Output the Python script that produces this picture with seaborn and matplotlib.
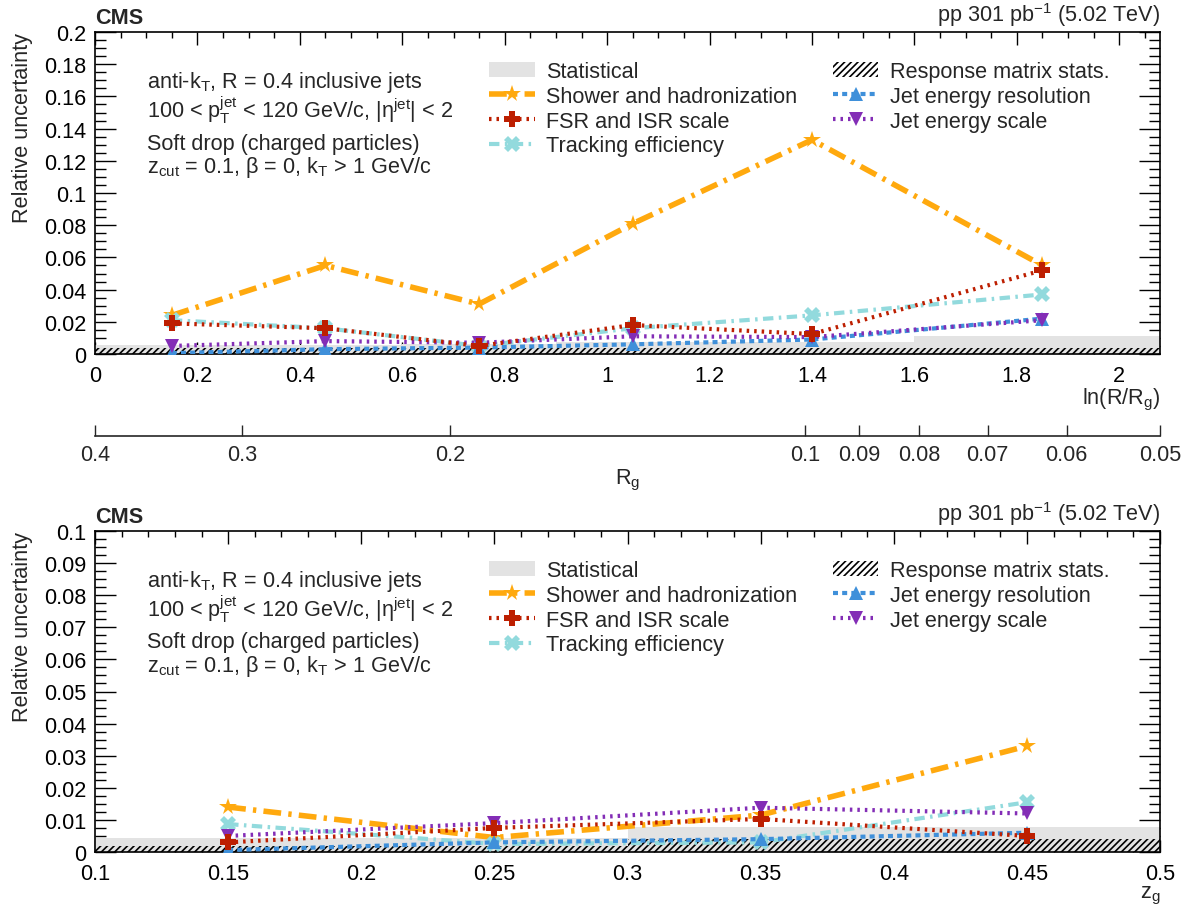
import numpy as np
import pandas as pd
import matplotlib
matplotlib.use("Agg")
import matplotlib.pyplot as plt
import seaborn as sns
from matplotlib.lines import Line2D
from matplotlib.patches import Patch
from matplotlib.ticker import MultipleLocator, FixedLocator, FuncFormatter

# ---------------- data ----------------
# top panel: ln(R/Rg)
lnr_edges = [0.0, 0.3, 0.6, 0.9, 1.2, 1.6, float(np.log(8.0))]
lnr_centers = [0.15, 0.45, 0.75, 1.05, 1.4, 1.85]
stat_top = [0.0055, 0.0055, 0.0065, 0.0075, 0.0075, 0.011]
resp_top = [0.004, 0.004, 0.004, 0.004, 0.004, 0.004]
shower_top = [0.024, 0.055, 0.031, 0.081, 0.133, 0.055]
fsr_top = [0.019, 0.016, 0.005, 0.018, 0.0124, 0.052]
track_top = [0.021, 0.016, 0.005, 0.016, 0.024, 0.037]
jer_top = [0.0005, 0.003, 0.004, 0.006, 0.009, 0.022]
jes_top = [0.005, 0.008, 0.007, 0.011, 0.0105, 0.021]

# bottom panel: z_g
zg_edges = [0.1, 0.2, 0.3, 0.4, 0.5]
zg_centers = [0.15, 0.25, 0.35, 0.45]
stat_bot = [0.0045, 0.0045, 0.0078, 0.0078]
resp_bot = [0.002, 0.002, 0.004, 0.004]
shower_bot = [0.014, 0.0045, 0.0115, 0.033]
fsr_bot = [0.003, 0.0075, 0.0103, 0.005]
track_bot = [0.0087, 0.0025, 0.003, 0.0155]
jer_bot = [0.0006, 0.003, 0.004, 0.006]
jes_bot = [0.005, 0.009, 0.0138, 0.012]

rg_ticks = [0.4, 0.3, 0.2, 0.1, 0.09, 0.08, 0.07, 0.06, 0.05]

labels = ["Statistical", "Shower and hadronization", "FSR and ISR scale",
          "Tracking efficiency", "Response matrix stats.",
          "Jet energy resolution", "Jet energy scale"]

# ---------------- style ----------------
sns.set_style("ticks")
plt.rcParams["font.family"] = ["Liberation Sans", "DejaVu Sans"]
plt.rcParams["mathtext.default"] = "regular"
plt.rcParams["hatch.linewidth"] = 1.2
FS = 15.6

ORANGE = "#ffa90e"
RED = "#bd1f01"
CYAN = "#92dadd"
BLUE = "#3f90da"
PURPLE = "#832db6"
GRAY = "#e3e3e3"

series_style = {
    "shower": dict(color=ORANGE, marker="*", markersize=13, linewidth=4.0,
                   linestyle=(0, (3.2, 1.3, 0.6, 1.3))),
    "fsr": dict(color=RED, marker="P", markersize=11, linewidth=3.0,
                linestyle=(0, (0.6, 1.2))),
    "track": dict(color=CYAN, marker="X", markersize=11, linewidth=3.0,
                  linestyle=(0, (2.5, 1.3, 0.6, 1.3))),
    "jer": dict(color=BLUE, marker="^", markersize=10, linewidth=3.0,
                linestyle=(0, (1.2, 1.0))),
    "jes": dict(color=PURPLE, marker="v", markersize=10, linewidth=3.0,
                linestyle=(0, (0.6, 1.2))),
}

fig = plt.figure(figsize=(11.82, 9.12), dpi=100)
W, H = 1182.0, 912.0
ax_top = fig.add_axes([95 / W, (H - 355) / H, 1065 / W, 322 / H])
ax_bot = fig.add_axes([95 / W, (H - 853) / H, 1065 / W, 321 / H])


def style_axis(ax, xmaj, xmin, ymaj, ymin):
    ax.xaxis.set_major_locator(MultipleLocator(xmaj))
    ax.xaxis.set_minor_locator(MultipleLocator(xmin))
    ax.yaxis.set_major_locator(MultipleLocator(ymaj))
    ax.yaxis.set_minor_locator(MultipleLocator(ymin))
    fmt = FuncFormatter(lambda v, p: "%g" % round(v, 6))
    ax.xaxis.set_major_formatter(fmt)
    ax.yaxis.set_major_formatter(fmt)
    ax.tick_params(axis="both", which="both", direction="in", top=True,
                   right=True, labelsize=FS, colors="black", width=1.0)
    ax.tick_params(axis="x", which="major", length=9, pad=8)
    ax.tick_params(axis="x", which="minor", length=4.5)
    ax.tick_params(axis="y", which="major", length=15, pad=6)
    ax.tick_params(axis="y", which="minor", length=8)
    for s in ax.spines.values():
        s.set_linewidth(1.2)
        s.set_color("black")
        s.set_visible(True)


def draw_panel(ax, edges, centers, stat, resp, vals):
    ax.stairs(stat, edges, fill=True, color=GRAY, linewidth=0, zorder=1)
    ax.stairs(resp, edges, fill=True, facecolor="none", edgecolor="black",
              hatch="/////", linewidth=0, zorder=1.5)
    order = ["shower", "track", "jer", "jes", "fsr"]
    for key in order:
        st = series_style[key]
        df = pd.DataFrame({"x": centers, "y": vals[key]})
        sns.lineplot(data=df, x="x", y="y", ax=ax, errorbar=None,
                     color=st["color"], marker=st["marker"],
                     markersize=st["markersize"], linewidth=st["linewidth"],
                     linestyle=st["linestyle"], markeredgewidth=0,
                     zorder=3)


draw_panel(ax_top, lnr_edges, lnr_centers, stat_top, resp_top,
           dict(shower=shower_top, fsr=fsr_top, track=track_top,
                jer=jer_top, jes=jes_top))
draw_panel(ax_bot, zg_edges, zg_centers, stat_bot, resp_bot,
           dict(shower=shower_bot, fsr=fsr_bot, track=track_bot,
                jer=jer_bot, jes=jes_bot))

ax_top.set_xlim(0, np.log(8.0))
ax_top.set_ylim(0, 0.2)
style_axis(ax_top, 0.2, 0.05, 0.02, 0.005)
ax_bot.set_xlim(0.1, 0.5)
ax_bot.set_ylim(0, 0.1)
style_axis(ax_bot, 0.05, 0.01, 0.01, 0.0025)

for ax, xl in [(ax_top, r"ln(R/R$_{g}$)"), (ax_bot, r"z$_{g}$")]:
    ax.set_xlabel(xl, fontsize=FS, loc="right", labelpad=0)
    ax.set_ylabel("Relative uncertainty", fontsize=FS, loc="top", labelpad=8)
    ax.text(0.0, 1.012, "CMS", transform=ax.transAxes, fontsize=FS,
            fontweight="bold", ha="left", va="bottom")
    ax.text(1.0, 1.012, r"pp 301 pb$^{-1}$ (5.02 TeV)", transform=ax.transAxes,
            fontsize=FS, ha="right", va="bottom")
    lines = [r"anti-$k_{T}$, R = 0.4 inclusive jets",
             r"100 < $p_{T}^{jet}$ < 120 GeV/c, |$\eta^{jet}$| < 2",
             "Soft drop (charged particles)",
             r"$z_{cut}$ = 0.1, $\beta$ = 0, $k_{T}$ > 1 GeV/c"]
    ys = [0.829, 0.736, 0.638, 0.565]
    for t, yy in zip(lines, ys):
        ax.text(52 / 1065, yy, t, transform=ax.transAxes, fontsize=FS,
                ha="left", va="baseline")

    handles = [Patch(facecolor=GRAY, edgecolor="none")]
    for key in ["shower", "fsr", "track"]:
        st = series_style[key]
        handles.append(Line2D([], [], color=st["color"], marker=st["marker"],
                              markersize=st["markersize"],
                              linewidth=st["linewidth"],
                              linestyle=st["linestyle"], markeredgewidth=0))
    handles.append(Patch(facecolor="white", edgecolor="black", hatch="/////",
                         linewidth=0))
    for key in ["jer", "jes"]:
        st = series_style[key]
        handles.append(Line2D([], [], color=st["color"], marker=st["marker"],
                              markersize=st["markersize"],
                              linewidth=st["linewidth"],
                              linestyle=st["linestyle"], markeredgewidth=0))
    ax.legend(handles, labels, ncol=2, loc="upper left",
              bbox_to_anchor=(394 / 1065, 0.909), frameon=False,
              fontsize=FS, handlelength=2.1, handletextpad=0.55,
              labelspacing=0.17, columnspacing=1.63, borderaxespad=0,
              borderpad=0)

# secondary Rg axis
def fwd(x):
    return 0.4 * np.exp(-np.asarray(x, dtype=float))


def inv(r):
    r = np.clip(np.asarray(r, dtype=float), 1e-9, None)
    return np.log(0.4 / r)


sec = ax_top.secondary_xaxis(-(437 - 355) / 322.0, functions=(fwd, inv))
sec.xaxis.set_major_locator(FixedLocator(rg_ticks))
sec.xaxis.set_minor_locator(FixedLocator([]))
sec.xaxis.set_major_formatter(FuncFormatter(lambda v, p: "%g" % round(v, 4)))
sec.tick_params(axis="x", which="major", direction="in", length=8,
                labelsize=FS, pad=6, width=1.0)
sec.spines["bottom"].set_linewidth(1.2)
sec.set_xlabel(r"R$_{g}$", fontsize=FS, labelpad=1)

fig.savefig("out.png", dpi=100)
